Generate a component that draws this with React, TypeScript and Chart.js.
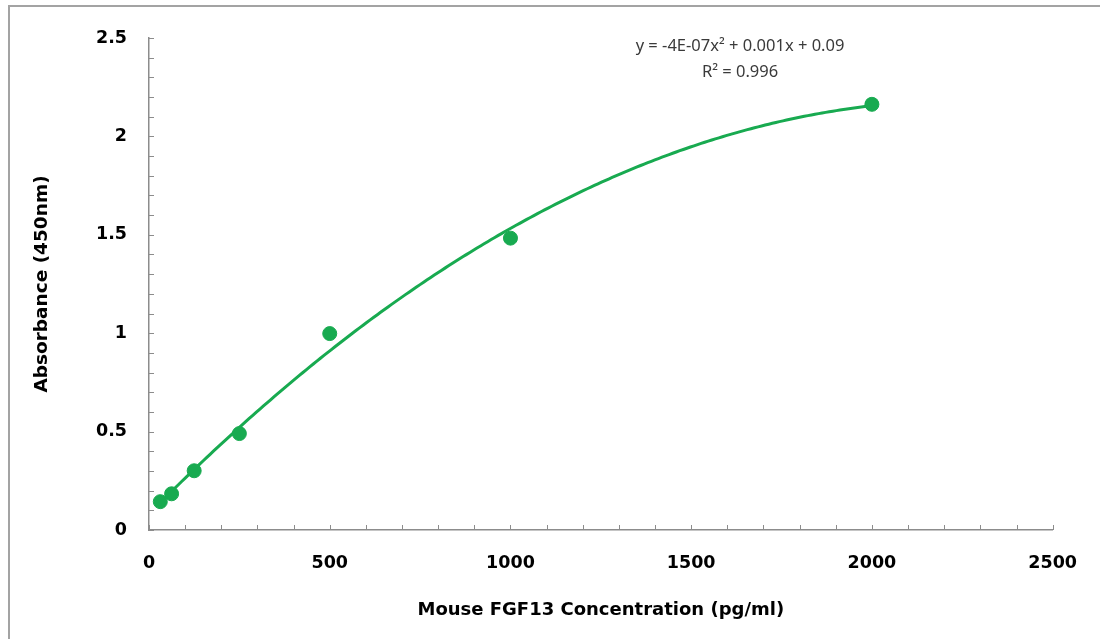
import React, { useEffect, useRef } from "react";
import { Chart, registerables } from "chart.js";

Chart.register(...registerables);

// ---- data ----
const concentrations: number[] = [31.25, 62.5, 125, 250, 500, 1000, 2000];
const absorbances: number[] = [0.144, 0.184, 0.301, 0.49, 0.998, 1.483, 2.163];
const xTickLabels: number[] = [0, 500, 1000, 1500, 2000, 2500];
const yTickLabels: number[] = [0, 0.5, 1, 1.5, 2, 2.5];
const equationLines: string[] = ["y = -4E-07x² + 0.001x + 0.09", "R² = 0.996"];
const xTitle = "Mouse FGF13 Concentration (pg/ml)";
const yTitle = "Absorbance (450nm)";

const GREEN = "rgb(24,170,80)";
const AXIS = "#8c8c8c";

// least-squares quadratic fit (as a spreadsheet trendline does)
function quadFit(xs: number[], ys: number[]): [number, number, number] {
  let s0 = 0, s1 = 0, s2 = 0, s3 = 0, s4 = 0, t0 = 0, t1 = 0, t2 = 0;
  for (let i = 0; i < xs.length; i++) {
    const x = xs[i], y = ys[i];
    s0 += 1; s1 += x; s2 += x * x; s3 += x * x * x; s4 += x * x * x * x;
    t0 += y; t1 += x * y; t2 += x * x * y;
  }
  const M = [
    [s4, s3, s2, t2],
    [s3, s2, s1, t1],
    [s2, s1, s0, t0],
  ];
  for (let c = 0; c < 3; c++) {
    for (let r = c + 1; r < 3; r++) {
      const f = M[r][c] / M[c][c];
      for (let k = c; k < 4; k++) M[r][k] -= f * M[c][k];
    }
  }
  const sol = [0, 0, 0];
  for (let r = 2; r >= 0; r--) {
    let v = M[r][3];
    for (let k = r + 1; k < 3; k++) v -= M[r][k] * sol[k];
    sol[r] = v / M[r][r];
  }
  return [sol[0], sol[1], sol[2]];
}

export default function App() {
  const ref = useRef<HTMLCanvasElement | null>(null);

  useEffect(() => {
    if (!ref.current) return;
    const [a, b, c] = quadFit(concentrations, absorbances);
    const xMin = concentrations[0];
    const xMax = concentrations[concentrations.length - 1];
    const trend: { x: number; y: number }[] = [];
    const n = 200;
    for (let i = 0; i <= n; i++) {
      const x = xMin + ((xMax - xMin) * i) / n;
      trend.push({ x, y: a * x * x + b * x + c });
    }

    const tickMarks = {
      id: "tickMarks",
      afterDraw(chart: any) {
        const ctx = chart.ctx;
        const xs = chart.scales.x;
        const ys = chart.scales.y;
        ctx.save();
        ctx.strokeStyle = AXIS;
        ctx.lineWidth = 1;
        const bottom = ys.getPixelForValue(0);
        const left = xs.getPixelForValue(0);
        for (let v = 0; v <= 2500; v += 100) {
          const px = Math.round(xs.getPixelForValue(v)) + 0.5;
          ctx.beginPath();
          ctx.moveTo(px, bottom);
          ctx.lineTo(px, bottom - 5);
          ctx.stroke();
        }
        for (let i = 0; i <= 25; i++) {
          const py = Math.round(ys.getPixelForValue(i / 10)) + 0.5;
          ctx.beginPath();
          ctx.moveTo(left, py);
          ctx.lineTo(left + 5, py);
          ctx.stroke();
        }
        // equation text
        ctx.fillStyle = "#3a3a3a";
        ctx.font = "16.5px 'Noto Sans', 'Liberation Sans', sans-serif";
        ctx.textAlign = "center";
        ctx.textBaseline = "middle";
        ctx.fillText(equationLines[0], 740, 46);
        ctx.fillText(equationLines[1], 740, 72);
        ctx.restore();
      },
    };

    const chart = new Chart(ref.current, {
      type: "scatter",
      data: {
        datasets: [
          {
            type: "scatter",
            data: concentrations.map((x, i) => ({ x, y: absorbances[i] })),
            backgroundColor: GREEN,
            borderColor: GREEN,
            pointRadius: 7,
            pointHoverRadius: 7,
            order: 1,
          },
          {
            type: "line",
            data: trend,
            borderColor: GREEN,
            borderWidth: 3,
            pointRadius: 0,
            fill: false,
            tension: 0,
            order: 2,
          } as any,
        ],
      },
      options: {
        animation: false,
        responsive: false,
        maintainAspectRatio: false,
        layout: { padding: { left: 0, top: 38, right: 44, bottom: 0 } },
        plugins: { legend: { display: false }, tooltip: { enabled: false } },
        scales: {
          x: {
            type: "linear",
            min: 0,
            max: 2500,
            afterBuildTicks: (s: any) => {
              s.ticks = xTickLabels.map((v) => ({ value: v }));
            },
            afterFit: (s: any) => {
              s.height = 109;
            },
            grid: { display: false, drawTicks: false },
            border: { display: true, color: AXIS, width: 1.5 },
            ticks: {
              padding: 23,
              color: "#000",
              font: { family: "'DejaVu Sans'", size: 17.5, weight: "bold" },
              callback: (v: any) => String(v),
            },
            title: {
              display: true,
              text: xTitle,
              color: "#000",
              font: { family: "'DejaVu Sans'", size: 18, weight: "bold" },
              padding: { top: 0, bottom: 18 },
            },
          },
          y: {
            type: "linear",
            min: 0,
            max: 2.5,
            afterBuildTicks: (s: any) => {
              s.ticks = yTickLabels.map((v) => ({ value: v }));
            },
            afterFit: (s: any) => {
              s.width = 149;
            },
            grid: { display: false, drawTicks: false },
            border: { display: true, color: AXIS, width: 1.5 },
            ticks: {
              padding: 22,
              color: "#000",
              font: { family: "'DejaVu Sans'", size: 17.5, weight: "bold" },
              callback: (v: any) => String(v),
            },
            title: {
              display: true,
              text: yTitle,
              color: "#000",
              font: { family: "'DejaVu Sans'", size: 18.5, weight: "bold" },
              padding: { top: 31, bottom: 0 },
            },
          },
        },
      },
      plugins: [tickMarks],
    });
    return () => chart.destroy();
  }, []);

  return (
    <div style={{ position: "absolute", left: 0, top: 0, width: 1100, height: 639, background: "#fff" }}>
      <div
        style={{
          position: "absolute",
          left: 8,
          top: 5,
          width: 1092,
          height: 634,
          borderTop: "2px solid #a3a3a3",
          borderLeft: "2px solid #a3a3a3",
          boxSizing: "border-box",
        }}
      />
      <canvas
        ref={ref}
        width={1100}
        height={639}
        style={{ position: "absolute", left: 0, top: 0, width: 1100, height: 639 }}
      />
    </div>
  );
}
